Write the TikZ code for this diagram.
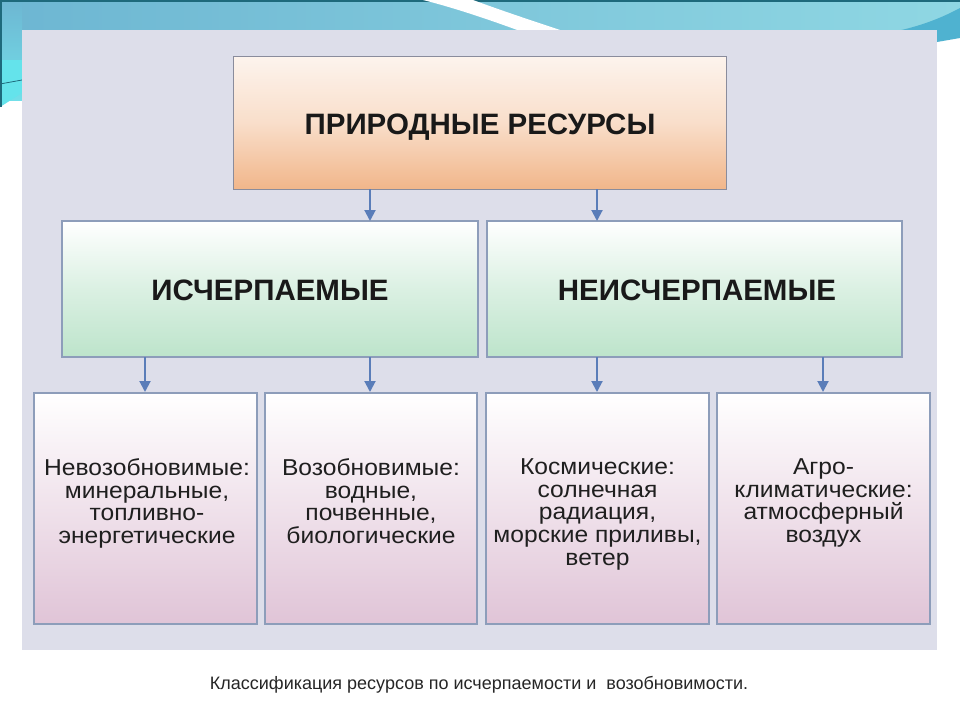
\documentclass[tikz,border=0pt]{standalone}
\usepackage{fontspec}
\setmainfont{Liberation Sans}
\newfontfamily\boxfont[FakeStretch=1.07]{Liberation Sans}
\usetikzlibrary{arrows.meta}
\definecolor{panel}{HTML}{DDDEEA}
\definecolor{tealA}{HTML}{6DB6D2}
\definecolor{tealB}{HTML}{8FD7E3}
\definecolor{tealD}{HTML}{1E6A7C}
\definecolor{tealW}{HTML}{4FB2D0}
\definecolor{arrowc}{HTML}{5A7DB9}
\definecolor{edgeA}{HTML}{8A8C9C}
\definecolor{edgeB}{HTML}{8D9DBA}
\definecolor{orangeB}{HTML}{F1B68A}
\definecolor{greenB}{HTML}{BDE4CB}
\definecolor{pinkB}{HTML}{E0C4D7}
\tikzset{
  topbox/.style={draw=edgeA, line width=1pt, top color=white!85!orangeB, bottom color=orangeB, middle color=white!55!orangeB},
  midbox/.style={draw=edgeB, line width=1.2pt, top color=white, bottom color=greenB, middle color=white!45!greenB},
  lowbox/.style={draw=edgeB, line width=1.2pt, top color=white, bottom color=pinkB, middle color=white!50!pinkB},
  bigtxt/.style={font=\fontsize{29.5}{32}\selectfont\bfseries, text=black!90},
  smalltxt/.style={font=\boxfont\fontsize{23}{22.7}\selectfont, text=black!88, align=center, anchor=north},
  conn/.style={draw=arrowc, line width=2pt, -{Triangle[length=11pt,width=11pt]}}
}
\begin{document}
\begin{tikzpicture}[x=1pt,y=-1pt]
\useasboundingbox (0,0) rectangle (960,720);
\fill[white] (0,0) rectangle (960,720);
% top decorative band
\shade[left color=tealA, right color=tealB] (0,0) rectangle (960,32);
\shade[top color=tealA, bottom color=tealB!80!cyan] (0,0) rectangle (22,100);
\fill[tealB!70!cyan] (0,60) -- (22,60) -- (22,93) -- (0,107) -- cycle;
\draw[tealD, line width=0.8pt] (0,84) -- (22,80);
\fill[tealD] (0,0) rectangle (960,2);
\fill[tealD] (0,0) rectangle (2,107);
\fill[white] (423,0) .. controls (455,8) and (490,20) .. (520,31) -- (563,31) .. controls (530,20) and (500,10) .. (473,0) -- cycle;
\fill[tealW] (897,31) .. controls (925,25) and (945,16) .. (960,8) -- (960,38) -- (937,42) -- (937,31) -- cycle;
% panel
\fill[panel] (22,30) rectangle (937,650);
% boxes
\path[topbox] (233,56) rectangle (726,189);
\node[bigtxt] (top) at (480,127) {ПРИРОДНЫЕ РЕСУРСЫ};
\path[midbox] (62,221) rectangle (478,357);
\path[midbox] (487,221) rectangle (902,357);
\node[bigtxt] (isch) at (270,290) {ИСЧЕРПАЕМЫЕ};
\node[bigtxt] (neisch) at (697,290) {НЕИСЧЕРПАЕМЫЕ};
\path[lowbox] (34,393) rectangle (257,624);
\path[lowbox] (265,393) rectangle (477,624);
\path[lowbox] (486,393) rectangle (709,624);
\path[lowbox] (717,393) rectangle (930,624);
\node[smalltxt] (b1) at (147,455) {Невозобновимые:\\минеральные,\\топливно-\\энергетические};
\node[smalltxt] (b2) at (371,455) {Возобновимые:\\водные,\\почвенные,\\биологические};
\node[smalltxt] (b3) at (597.5,455) {Космические:\\солнечная\\радиация,\\морские приливы,\\ветер};
\node[smalltxt] (b4) at (823.5,455) {Агро-\\климатические:\\атмосферный\\воздух};
% arrow anchor coordinates
\coordinate (t1) at (370,189); \coordinate (t2) at (597,189);
\coordinate (m1) at (370,221); \coordinate (m2) at (597,221);
\coordinate (s1) at (145,357); \coordinate (s2) at (370,357);
\coordinate (s3) at (597,357); \coordinate (s4) at (823,357);
\coordinate (e1) at (145,392); \coordinate (e2) at (370,392);
\coordinate (e3) at (597,392); \coordinate (e4) at (823,392);
\draw[conn] (t1) -- (m1);
\draw[conn] (t2) -- (m2);
\draw[conn] (s1) -- (e1);
\draw[conn] (s2) -- (e2);
\draw[conn] (s3) -- (e3);
\draw[conn] (s4) -- (e4);
% caption
\node[text=black!85, font=\fontsize{18}{20}\selectfont] (cap) at (479,685) {Классификация ресурсов по исчерпаемости и \ возобновимости.};
\end{tikzpicture}
\end{document}
